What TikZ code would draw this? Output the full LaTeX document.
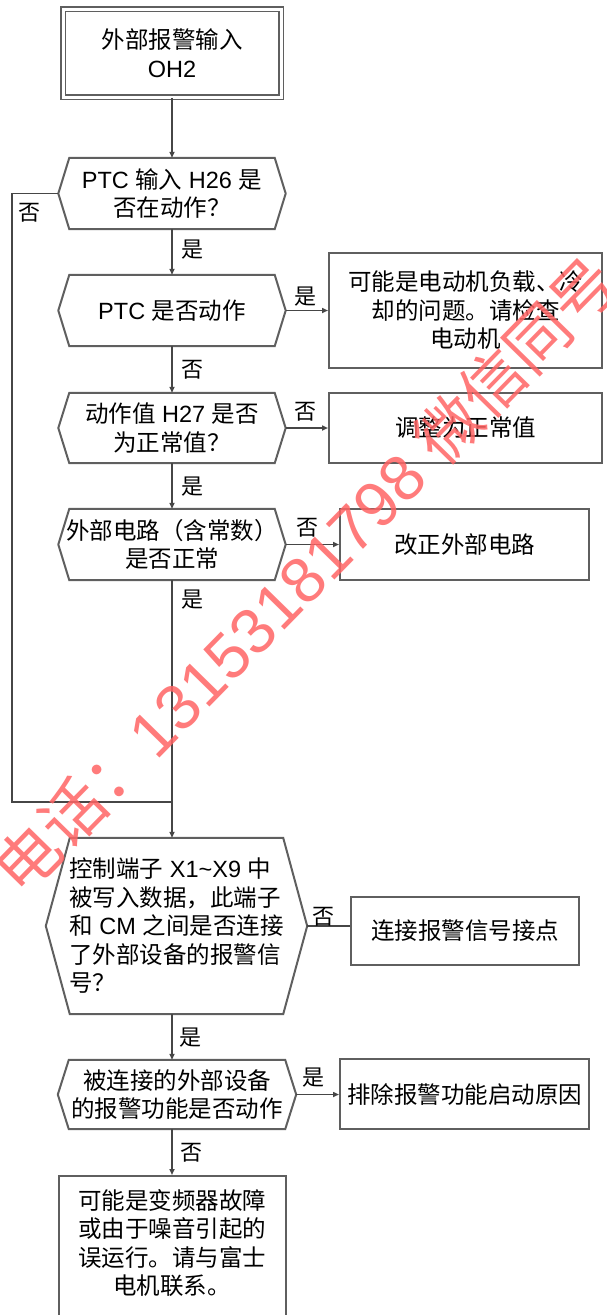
\documentclass[tikz,border=0pt]{standalone}
\usepackage{fontspec}
\setmainfont{Liberation Sans}
\newfontfamily\cjk{Noto Sans CJK SC}
\usetikzlibrary{arrows.meta}
\newcommand\zh[1]{{\cjk #1}}
\definecolor{boxc}{RGB}{95,95,95}
\definecolor{linec}{RGB}{70,70,70}
\definecolor{wmc}{RGB}{255,100,100}
\newcommand\hexa[2]{\draw[hexline] (#1.west) -- ([xshift=#2]#1.north west) -- ([xshift=-#2]#1.north east) -- (#1.east) -- ([xshift=-#2]#1.south east) -- ([xshift=#2]#1.south west) -- cycle;}
\begin{document}
\begin{tikzpicture}[x=1pt,y=-1pt,
  txt/.style={inner sep=0pt, align=center, font=\fontsize{23.5}{28.5}\selectfont},
  box/.style={txt, draw=boxc, line width=2pt, rectangle},
  hexline/.style={draw=boxc, line width=2pt, line join=miter},
  conn/.style={draw=linec, line width=1.5pt},
  arr/.style={conn, -{Triangle[length=6pt,width=5pt]}},
  lab/.style={inner sep=0pt, font=\fontsize{22}{26}\selectfont},
  wmark/.style={inner sep=0pt, text=wmc, text opacity=0.85, font=\fontsize{64}{64}\selectfont}
]
\useasboundingbox (0,0) rectangle (606,1315);
\clip (0,0) rectangle (606,1315);

% start box
\node[box, double, double distance=3pt, line width=1.5pt, minimum width=218pt, minimum height=88pt] (start) at (172,53) {\zh{外部报警输入}\\OH2};

% decisions
\node[txt, minimum width=227pt, minimum height=71pt] (d1) at (172,193.5) {PTC \zh{输入} H26 \zh{是}\\\zh{否在动作？}};
\hexa{d1}{11pt}
\node[txt, minimum width=227pt, minimum height=71pt] (d2) at (172,310.5) {PTC \zh{是否动作}};
\hexa{d2}{11pt}
\node[txt, minimum width=227pt, minimum height=70pt] (d3) at (172,428) {\zh{动作值} H27 \zh{是否}\\\zh{为正常值？}};
\hexa{d3}{11pt}
\node[txt, minimum width=227pt, minimum height=71pt] (d4) at (172,544.5) {\zh{外部电路（含常数）}\\\zh{是否正常}};
\hexa{d4}{11pt}
\node[txt, align=left, minimum width=261pt, minimum height=176pt] (d5) at (176.5,926) {\zh{控制端子} X1\char`\~X9 \zh{中}\\\zh{被写入数据，此端子}\\\zh{和} CM \zh{之间是否连接}\\\zh{了外部设备的报警信}\\\zh{号？}};
\hexa{d5}{24pt}
\node[txt, minimum width=238pt, minimum height=69pt] (d6) at (177,1094.5) {\zh{被连接的外部设备}\\\zh{的报警功能是否动作}};
\hexa{d6}{11pt}

% result boxes
\node[box, minimum width=273pt, minimum height=115pt] (r1) at (465.5,310.5) {\zh{可能是电动机负载、冷}\\\zh{却的问题。请检查}\\\zh{电动机}};
\node[box, minimum width=273pt, minimum height=70pt] (r2) at (465.5,428) {\zh{调整为正常值}};
\node[box, minimum width=249pt, minimum height=71pt] (r3) at (464.5,544.5) {\zh{改正外部电路}};
\node[box, minimum width=228pt, minimum height=68pt] (r4) at (465,931) {\zh{连接报警信号接点}};
\node[box, minimum width=249pt, minimum height=70pt] (r5) at (464.5,1094) {\zh{排除报警功能启动原因}};
\node[box, anchor=north, minimum width=227pt, minimum height=160pt] (r6) at (172,1175) {};
\node[txt] (r6t) at (172,1243) {\zh{可能是变频器故障}\\\zh{或由于噪音引起的}\\\zh{误运行。请与富士}\\\zh{电机联系。}};

% connectors
\coordinate (jn) at (172,802);
\coordinate (lp) at (12,0);
\draw[arr] (start.south) -- (d1.north);
\draw[arr] (d1.south) -- (d2.north);
\draw[arr] (d2.south) -- (d3.north);
\draw[arr] (d3.south) -- (d4.north);
\draw[arr] (d4.south) -- (jn |- d5.north);
\draw[conn] (d1.west) -- (d1.west -| lp) |- (jn);
\draw[arr] (jn |- d5.south) -- (jn |- d6.north);
\draw[arr] (jn |- d6.south) -- (r6.north);
\draw[arr] (d2.east) -- (r1.west);
\draw[arr] (d3.east) -- (r2.west);
\draw[arr] (d4.east) -- (r3.west);
\draw[conn] (d5.east) -- (d5.east -| r4.west);
\draw[arr] (d6.east) -- (d6.east -| r5.west);

% labels
\node[lab] (l1) at (29,213) {\zh{否}};
\node[lab] (l2) at (192,250) {\zh{是}};
\node[lab] (l3) at (305,297) {\zh{是}};
\node[lab] (l4) at (192,370) {\zh{否}};
\node[lab] (l5) at (305,412) {\zh{否}};
\node[lab] (l6) at (192,487) {\zh{是}};
\node[lab] (l7) at (307,528) {\zh{否}};
\node[lab] (l8) at (192,600) {\zh{是}};
\node[lab] (l9) at (323,917) {\zh{否}};
\node[lab] (l10) at (190,1038) {\zh{是}};
\node[lab] (l11) at (313,1078) {\zh{是}};
\node[lab] (l12) at (191,1153) {\zh{否}};

% watermark
\node[wmark, rotate=45.6] (wm) at (305,575) {\zh{电话：}13153181798 \zh{微信同号}};
\end{tikzpicture}
\end{document}
